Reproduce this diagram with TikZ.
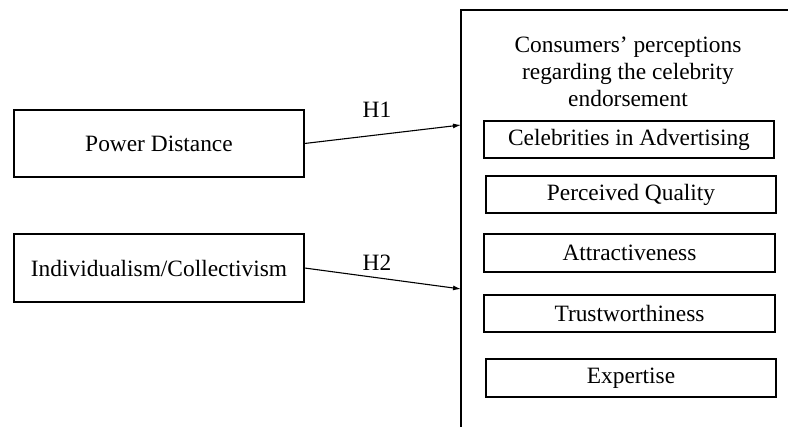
\documentclass[tikz,border=0pt]{standalone}
\usepackage{fontspec}
\setmainfont{Liberation Serif}
\usetikzlibrary{arrows.meta}
\begin{document}
\begin{tikzpicture}[x=1pt,y=-1pt,
  txt/.style={font=\fontsize{23.4}{27}\selectfont},
  box/.style={draw,line width=1.1pt,inner sep=0pt,txt},
  conn/.style={line width=1.1pt,-{Latex[length=8pt,width=5pt]}},
  lbl/.style={txt,inner sep=0pt}]
\useasboundingbox (0,0) rectangle (788,427);
\fill[white] (0,0) rectangle (788,427);
% left boxes
\node[box,minimum width=290pt,minimum height=67pt] (pd) at (159,143.5) {Power Distance};
\node[box,minimum width=290pt,minimum height=68pt] (ic) at (159,268) {Individualism/Collectivism};
% big frame (cropped)
\draw[line width=1.1pt] (788,10) -- (461,10) -- (461,427);
\coordinate (f1) at (461,125);
\coordinate (f2) at (461,289);
\node[lbl,align=center] (title) at (628,72) {Consumers’ perceptions\\regarding the celebrity\\endorsement};
% inner boxes
\node[box,minimum width=290pt,minimum height=37pt] (cel) at (629,139.5) {Celebrities in Advertising};
\node[box,minimum width=290pt,minimum height=37pt] (pq) at (631,194.5) {Perceived Quality};
\node[box,minimum width=291pt,minimum height=38pt] (att) at (629.5,253) {Attractiveness};
\node[box,minimum width=291pt,minimum height=37pt] (tru) at (629.5,313.5) {Trustworthiness};
\node[box,minimum width=290pt,minimum height=38pt] (exp) at (631,378) {Expertise};
% connectors
\draw[conn] (pd.east) -- (f1);
\draw[conn] (ic.east) -- (f2);
\node[lbl] (h1) at (377,110) {H1};
\node[lbl] (h2) at (377,263) {H2};
\end{tikzpicture}
\end{document}
